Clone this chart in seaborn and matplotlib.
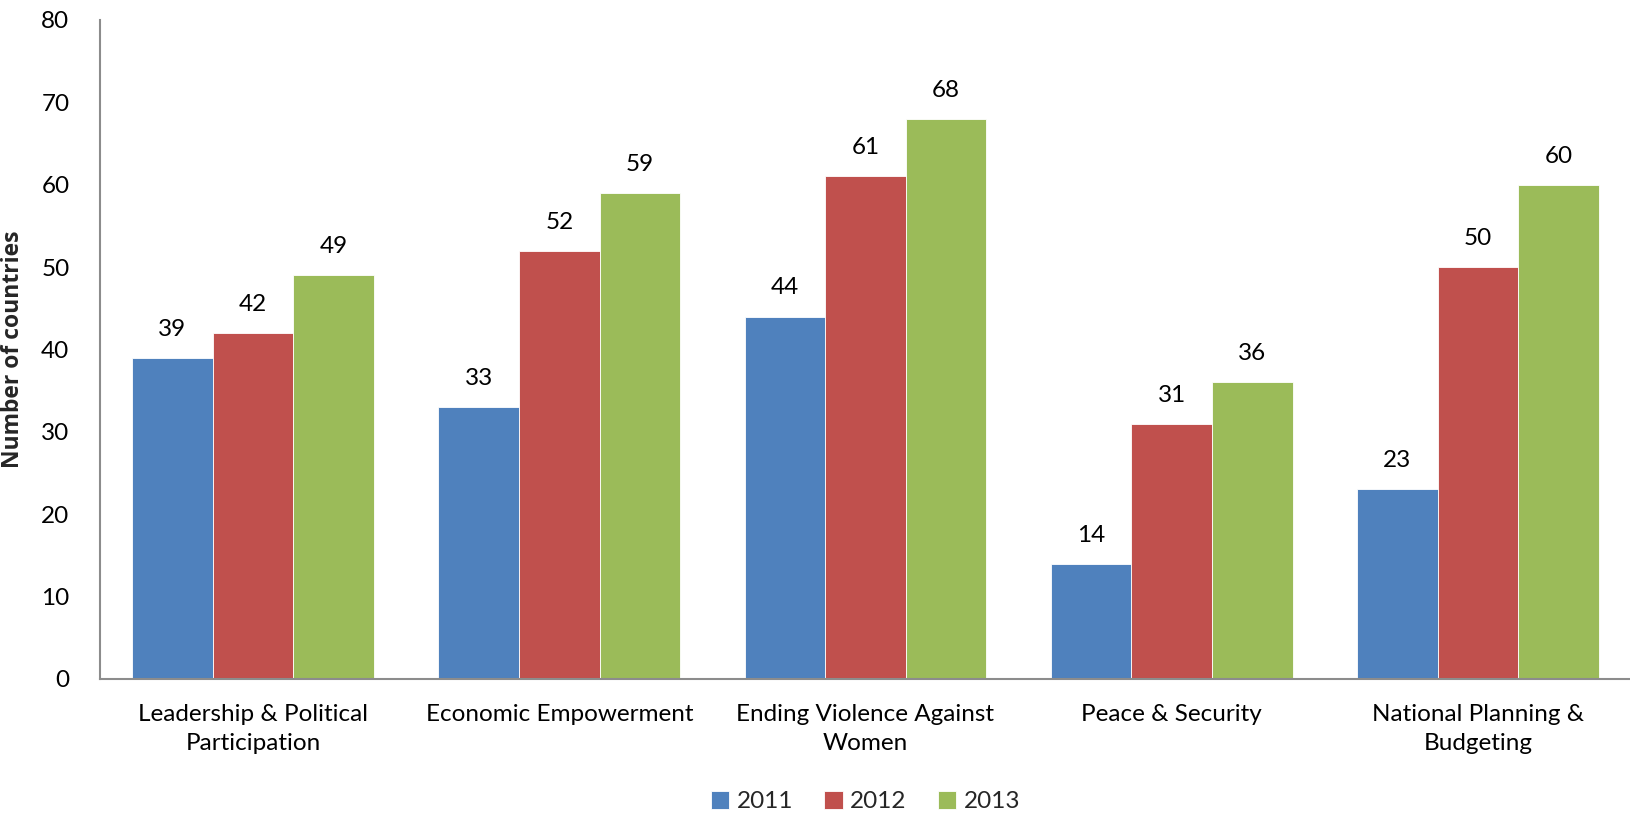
import matplotlib
matplotlib.use("Agg")
import matplotlib.pyplot as plt
import seaborn as sns
import pandas as pd

categories = ["Leadership & Political\nParticipation", "Economic Empowerment",
              "Ending Violence Against\nWomen", "Peace & Security",
              "National Planning &\nBudgeting"]
years = ["2011", "2012", "2013"]
v2011 = [39, 33, 44, 14, 23]
v2012 = [42, 52, 61, 31, 50]
v2013 = [49, 59, 68, 36, 60]
colors = ["#4F81BD", "#C0504D", "#9BBB59"]

rows = []
for y, vals in zip(years, [v2011, v2012, v2013]):
    for c, v in zip(categories, vals):
        rows.append({"Category": c, "Year": y, "Value": v})
df = pd.DataFrame(rows)

sns.set_theme(style="white")
plt.rcParams['font.family'] = ['Lato', 'DejaVu Sans']

FS = 17.5
fig = plt.figure(figsize=(16.31, 8.16), dpi=100)
ax = fig.add_axes([0.0613, 0.168, 0.9387, 0.8075])
sns.barplot(data=df, x="Category", y="Value", hue="Year", palette=colors,
            width=0.79, edgecolor="white", linewidth=0.6, saturation=1, ax=ax)

for cont in ax.containers:
    ax.bar_label(cont, padding=13, fontsize=FS, color="black")

ax.set_ylim(0, 80)
ax.set_xlim(-0.5, 4.5)
ax.set_yticks(range(0, 81, 10))
ax.tick_params(axis="both", length=0, labelsize=FS, colors="black")
ax.tick_params(axis="y", pad=22)
ax.tick_params(axis="x", pad=18)
for lbl in ax.get_xticklabels():
    lbl.set_linespacing(1.45)
ax.set_xlabel("")
ax.set_ylabel("Number of countries", fontsize=16.5, fontweight="bold",
              family=["Open Sans", "DejaVu Sans"], labelpad=12)
for s in ["top", "right"]:
    ax.spines[s].set_visible(False)
for s in ["left", "bottom"]:
    ax.spines[s].set_color("#8C8C8C")
    ax.spines[s].set_linewidth(1.5)

ax.legend(loc="upper center", bbox_to_anchor=(0.5, -0.137), ncol=3, frameon=False,
          fontsize=FS, handlelength=0.75, handleheight=0.75, handletextpad=0.3,
          columnspacing=1.3, title=None)

fig.savefig("out.png", dpi=100)
